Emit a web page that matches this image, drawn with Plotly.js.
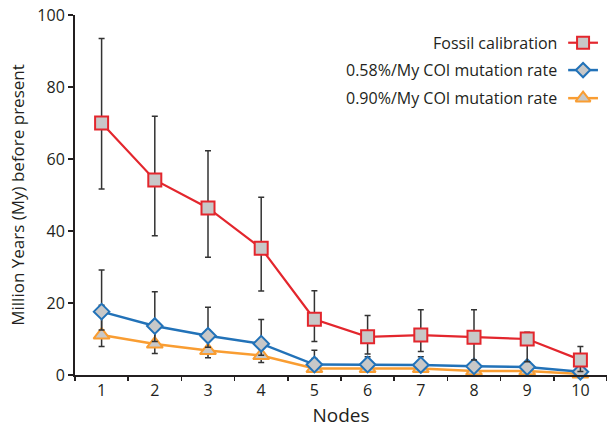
<!DOCTYPE html>
<html>
<head>
<meta charset="utf-8">
<script src="https://cdn.plot.ly/plotly-3.0.1.min.js"></script>
<style>html,body{margin:0;padding:0;background:#fff;}#chart{width:607px;height:434px;}</style>
</head>
<body>
<div id="chart"></div>
<script>
// ---- data ----
const nodes = [1, 2, 3, 4, 5, 6, 7, 8, 9, 10];
const seriesNames = ["Fossil calibration", "0.58%/My COI mutation rate", "0.90%/My COI mutation rate"];

const fossil      = [70.0, 54.2, 46.4, 35.2, 15.5, 10.6, 11.1, 10.5, 10.0, 4.2];
const fossilUpper = [93.5, 71.9, 62.3, 49.4, 23.4, 16.5, 18.1, 18.1, 11.9, 7.9];
const fossilLower = [51.7, 38.7, 32.7, 23.3, 9.3, 5.8, 6.5, 4.2, 3.7, 1.0];

const coi058      = [17.6, 13.6, 10.9, 8.7, 2.9, 2.9, 2.8, 2.4, 2.2, 0.9];
const coi058Upper = [29.2, 23.1, 18.8, 15.4, 6.9, 5.1, 5.1, 4.0, 3.5, 1.5];
const coi058Lower = [12.5, 9.3, 7.7, 5.5, 1.8, 1.8, 1.8, 1.5, 1.4, 0.5];

const coi090      = [11.1, 8.6, 6.8, 5.4, 1.8, 1.8, 1.8, 1.1, 1.1, 0.3];
const coi090Upper = [19.4, 15.1, 12.4, 9.9, 4.6, 3.3, 3.3, 2.6, 2.3, 0.9];
const coi090Lower = [7.9, 6.0, 4.8, 3.5, 1.0, 1.0, 1.0, 0.7, 0.7, 0.1];

const yTicks = [0, 20, 40, 60, 80, 100];

// ---- styles ----
const FONT = "Open Sans, Lato, sans-serif";
const TXT = "#231f20";
const styles = [
  {line: "#e3262d", symbol: "square", size: 13, border: "#e3262d", lw: 2.2},
  {line: "#2272b8", symbol: "diamond", size: 12, border: "#2272b8", lw: 2.5},
  {line: "#f99d32", symbol: "triangle-up", size: 14, border: "#f99d32", lw: 2.5}
];
const sets = [
  [fossil, fossilUpper, fossilLower],
  [coi058, coi058Upper, coi058Lower],
  [coi090, coi090Upper, coi090Lower]
];

function diff(a, b) { return a.map((v, i) => Math.max(0, v - b[i])); }

const traces = [];
[2, 1, 0].forEach(k => {
  const [v, up, lo] = sets[k];
  const s = styles[k];
  traces.push({
    x: nodes, y: v, type: "scatter", mode: "lines+markers", name: seriesNames[k],
    showlegend: false, cliponaxis: false,
    line: {color: s.line, width: s.lw},
    marker: {symbol: s.symbol, size: s.size, color: "#c8c8c8", line: {color: s.border, width: 2}},
    error_y: {type: "data", symmetric: false, array: diff(up, v), arrayminus: diff(v, lo),
              color: "#333333", thickness: 1.5, width: 3}
  });
});

// legend (text left, symbol right) drawn on a hidden overlay axis
const legY = [0.923, 0.847, 0.769];
const annotations = [];
for (let k = 0; k < 3; k++) {
  const s = styles[k];
  traces.push({
    x: [0.927, 0.955, 0.983], y: [legY[k], legY[k], legY[k]],
    xaxis: "x2", yaxis: "y2", type: "scatter", mode: "lines+markers",
    showlegend: false, hoverinfo: "skip", cliponaxis: false,
    line: {color: s.line, width: s.lw},
    marker: {symbol: s.symbol, size: s.size - 1, color: "#c8c8c8", opacity: [0, 1, 0],
             line: {color: s.border, width: 2}}
  });
  annotations.push({
    xref: "paper", yref: "paper", x: 0.910, y: legY[k], xanchor: "right", yanchor: "middle",
    text: seriesNames[k], showarrow: false, font: {family: FONT, size: 16, color: TXT}
  });
}

const layout = {
  width: 607, height: 434,
  margin: {l: 75, r: 0, t: 15, b: 59},
  paper_bgcolor: "#fff", plot_bgcolor: "#fff",
  showlegend: false,
  font: {family: FONT, color: TXT},
  xaxis: {
    range: [0.5, 10.5], tickvals: nodes, ticktext: nodes.map(String),
    ticks: "", showgrid: false, zeroline: false,
    showline: true, linecolor: "#231f20", linewidth: 2,
    tickfont: {family: FONT, size: 16, color: TXT},
    minor: {tick0: 0.5, dtick: 1, ticks: "outside", ticklen: 4, tickwidth: 1.5, tickcolor: "#231f20", showgrid: false},
    title: {text: "Nodes", font: {family: FONT, size: 19, color: TXT}, standoff: 8}
  },
  yaxis: {
    range: [0, 100], tickvals: yTicks,
    ticks: "outside", ticklen: 5, tickwidth: 1.5, tickcolor: "#231f20",
    showgrid: false, zeroline: false,
    showline: true, linecolor: "#231f20", linewidth: 2,
    tickfont: {family: FONT, size: 16, color: TXT},
    title: {text: "Million Years (My) before present", font: {family: FONT, size: 17, color: TXT}, standoff: 8}
  },
  xaxis2: {overlaying: "x", range: [0, 1], visible: false, fixedrange: true},
  yaxis2: {overlaying: "y", range: [0, 1], visible: false, fixedrange: true},
  annotations: annotations
};

Plotly.newPlot("chart", traces, layout, {displayModeBar: false, staticPlot: true});
</script>
</body>
</html>
